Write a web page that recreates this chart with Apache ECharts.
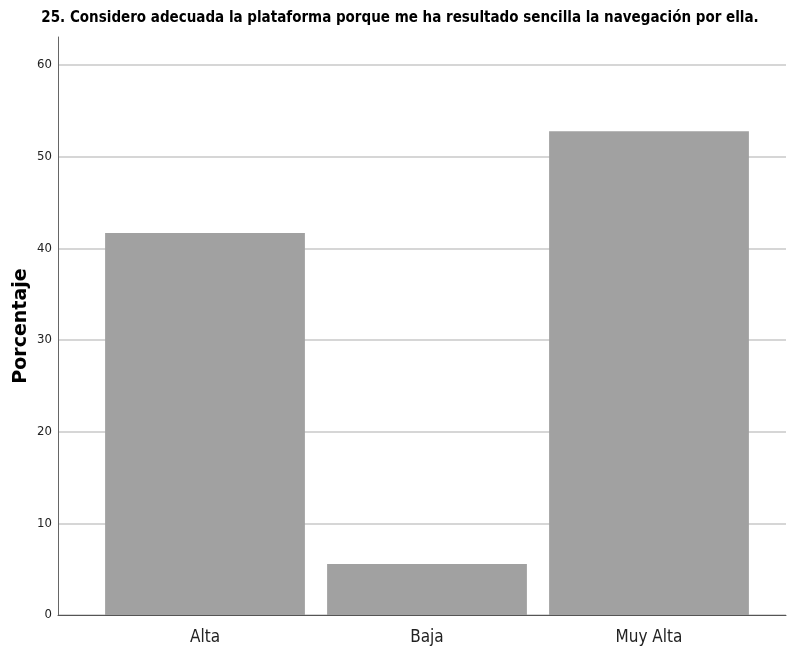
<!DOCTYPE html>
<html>
<head>
<meta charset="utf-8">
<script src="https://cdn.jsdelivr.net/npm/echarts/dist/echarts.min.js"></script>
<style>
html,body{margin:0;padding:0;background:#fff;}
#chart{width:788px;height:653px;}
</style>
</head>
<body>
<div id="chart"></div>
<script>
var titleText = '25. Considero adecuada la plataforma porque me ha resultado sencilla la navegación por ella.';
var categories = ['Alta', 'Baja', 'Muy Alta'];
var percentValues = [41.67, 5.56, 52.78];
var yMin = 0;
var yMax = 60;
var yInterval = 10;
var yAxisName = 'Porcentaje';

var narrow = "'DejaVu Sans Condensed', 'Liberation Sans Narrow', sans-serif";

var chart = echarts.init(document.getElementById('chart'), null, {renderer: 'canvas'});
chart.setOption({
  animation: false,
  backgroundColor: '#ffffff',
  title: {
    text: titleText,
    left: 395,
    textAlign: 'center',
    top: 6,
    textStyle: {fontFamily: narrow, fontWeight: 'bold', fontSize: 15, color: '#000000'}
  },
  grid: [
    {left: 58, right: 2, top: 37, bottom: 38, containLabel: false},
    {left: 58, right: 2, top: 65, bottom: 38, containLabel: false},
    {left: 94, width: 666, top: 65, bottom: 38, containLabel: false}
  ],
  xAxis: [
    {gridIndex: 0, type: 'category', data: categories, axisLine: {show: true, lineStyle: {color: '#555555', width: 1}}, axisTick: {show: false}, axisLabel: {show: false}, splitLine: {show: false}},
    {gridIndex: 1, type: 'category', data: categories, show: false},
    {gridIndex: 2, type: 'category', data: categories, axisLine: {show: false}, axisTick: {show: false},
     axisLabel: {show: true, margin: 14, fontFamily: narrow, fontSize: 17, color: '#222222'}}
  ],
  yAxis: [
    {gridIndex: 0, type: 'value', min: 0, max: 63,
     name: yAxisName, nameLocation: 'middle', nameRotate: 90, nameGap: 27,
     nameTextStyle: {fontFamily: "'DejaVu Sans', sans-serif", fontWeight: 'bold', fontSize: 19, color: '#000000'},
     axisLine: {show: true, lineStyle: {color: '#666666', width: 1}}, axisTick: {show: false}, axisLabel: {show: false}, splitLine: {show: false}},
    {gridIndex: 1, type: 'value', min: yMin, max: yMax, interval: yInterval,
     axisLine: {show: false}, axisTick: {show: false},
     axisLabel: {show: true, margin: 6, fontFamily: narrow, fontSize: 13, color: '#222222'},
     splitLine: {show: true, lineStyle: {color: '#c8c8c8', width: 1.5}}},
    {gridIndex: 2, type: 'value', min: yMin, max: yMax, interval: yInterval, show: false}
  ],
  series: [{
    type: 'bar',
    xAxisIndex: 2,
    yAxisIndex: 2,
    data: percentValues,
    barCategoryGap: '10%',
    itemStyle: {color: '#a1a1a1'},
    z: 3
  }]
});
</script>
</body>
</html>
